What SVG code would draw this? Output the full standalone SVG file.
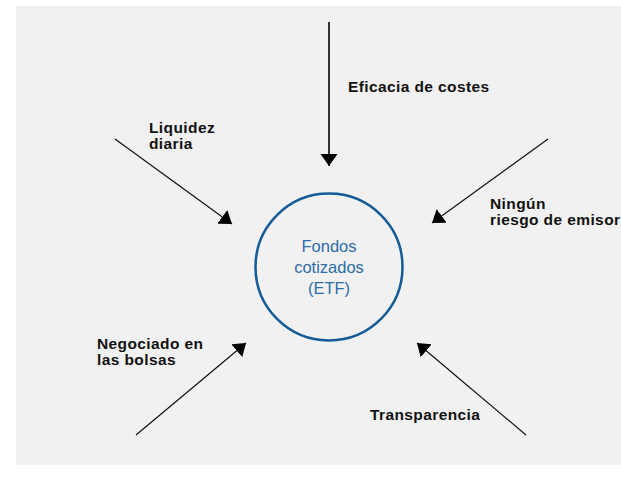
<svg xmlns="http://www.w3.org/2000/svg" width="621" height="482" viewBox="0 0 621 482">
  <style>
    .lbl { font-family: "Liberation Sans", Arial, sans-serif; font-weight: bold; font-size: 15.5px; letter-spacing: 0.4px; fill: #111; }
    .ctr { font-family: "Liberation Sans", Arial, sans-serif; font-size: 16.5px; fill: #2d6ca8; text-anchor: middle; }
    .con { stroke: #111; stroke-width: 1.2; fill: none; marker-end: url(#ah); }
    .vcon { stroke: #333; stroke-width: 2; fill: none; marker-end: url(#ah); }
  </style>
  <defs>
    <marker id="ah" markerUnits="userSpaceOnUse" markerWidth="14" markerHeight="20" viewBox="0 -10 14 20" refX="12" refY="0" orient="auto">
      <path d="M0,-8.5 L12,0 L0,8.5 Z" fill="#000"/>
    </marker>
  </defs>
  <rect x="16" y="6" width="605" height="459" fill="#f1f1f1"/>

  <g id="connectors">
    <line class="vcon" x1="329" y1="22" x2="329" y2="166"/>
    <line class="con" x1="115" y1="139" x2="232" y2="224"/>
    <line class="con" x1="548" y1="139" x2="432" y2="223"/>
    <line class="con" x1="136" y1="435" x2="246" y2="343"/>
    <line class="con" x1="526" y1="435" x2="417" y2="343"/>
  </g>

  <g id="etf">
    <circle cx="329" cy="267" r="73.5" fill="none" stroke="#135a96" stroke-width="2.5"/>
    <text class="ctr" x="329" y="252">Fondos</text>
    <text class="ctr" x="329" y="273">cotizados</text>
    <text class="ctr" x="329" y="294">(ETF)</text>
  </g>

  <g id="eficacia">
    <text class="lbl" x="348" y="92">Eficacia de costes</text>
  </g>
  <g id="liquidez">
    <text class="lbl" x="149" y="133">Liquidez</text>
    <text class="lbl" x="149" y="149">diaria</text>
  </g>
  <g id="ningun">
    <text class="lbl" x="490" y="209">Ningún</text>
    <text class="lbl" x="490" y="224.5">riesgo de emisor</text>
  </g>
  <g id="negociado">
    <text class="lbl" x="97" y="349">Negociado en</text>
    <text class="lbl" x="97" y="364.5">las bolsas</text>
  </g>
  <g id="transparencia">
    <text class="lbl" x="370" y="420">Transparencia</text>
  </g>
</svg>
